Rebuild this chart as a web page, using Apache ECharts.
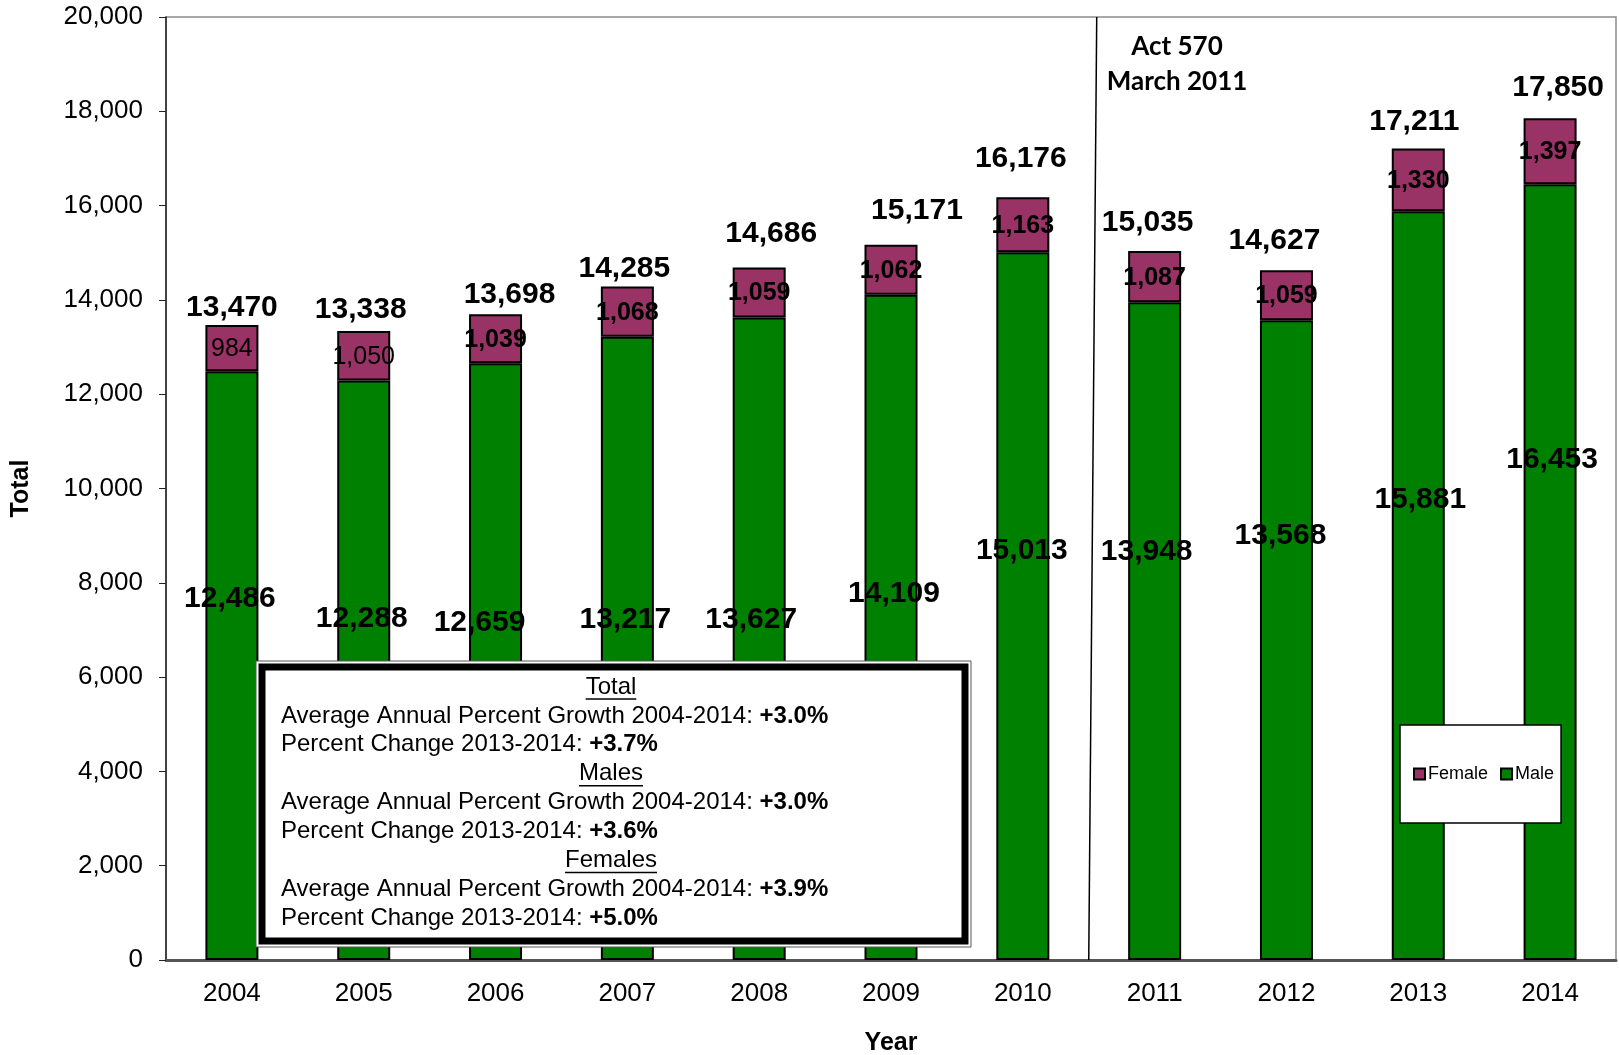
<!DOCTYPE html>
<html>
<head>
<meta charset="utf-8">
<script src="https://cdn.jsdelivr.net/npm/echarts@6.0.0/dist/echarts.min.js"></script>
<style>
html, body { margin: 0; padding: 0; background: #fff; }
#chart { width: 1619px; height: 1055px; }
</style>
</head>
<body>
<div id="chart"></div>
<script>
// data
const years = ['2004', '2005', '2006', '2007', '2008', '2009', '2010', '2011', '2012', '2013', '2014'];
const male = [12486, 12288, 12659, 13217, 13627, 14109, 15013, 13948, 13568, 15881, 16453];
const female = [984, 1050, 1039, 1068, 1059, 1062, 1163, 1087, 1059, 1330, 1397];
const totals = [13470, 13338, 13698, 14285, 14686, 15171, 16176, 15035, 14627, 17211, 17850];
const femaleBold = [false, false, true, true, true, true, true, true, true, true, true];

const noteLines = [
    { head: 'Total' },
    { text: 'Average Annual Percent Growth 2004-2014: ', bold: '+3.0%' },
    { text: 'Percent Change 2013-2014: ', bold: '+3.7%' },
    { head: 'Males' },
    { text: 'Average Annual Percent Growth 2004-2014: ', bold: '+3.0%' },
    { text: 'Percent Change 2013-2014: ', bold: '+3.6%' },
    { head: 'Females' },
    { text: 'Average Annual Percent Growth 2004-2014: ', bold: '+3.9%' },
    { text: 'Percent Change 2013-2014: ', bold: '+5.0%' }
];
const actNote = ['Act 570', 'March 2011'];

// label nudges (px), the original labels were dragged by hand
const maleLabelShift = [[-2, -67], [-2, -52], [-16, -39], [-2, -29], [-8, -19], [3, -34], [-1, -55], [-8, -79], [-6, -104], [2, -86], [2, -112]];
const totalLabelShift = [[0, 3], [-3, -1], [14, 1], [-3, 3], [12, -13], [26, -13], [-2, -18], [-7, -8], [-12, -9], [-4, -6], [8, -10]];

const FONT = '"Liberation Sans", Arial, sans-serif';
const fmt = v => Number(v).toLocaleString('en-US');

const chart = echarts.init(document.getElementById('chart'));

chart.setOption({
    animation: false,
    backgroundColor: '#fff',
    textStyle: { fontFamily: FONT, color: '#000' },
    grid: {
        left: 166,
        right: 3,
        top: 17,
        bottom: 95,
        outerBoundsMode: 'none',
        containLabel: false,
        show: true,
        borderColor: '#8c8c8c',
        borderWidth: 1.5
    },
    legend: {
        data: ['Female', 'Male'],
        left: 1400,
        top: 725,
        backgroundColor: '#fff',
        borderColor: '#000',
        borderWidth: 1.5,
        padding: [40, 7, 40, 13],
        itemWidth: 11,
        itemHeight: 11,
        itemGap: 12,
        icon: 'rect',
        itemStyle: { borderColor: '#000', borderWidth: 2 },
        textStyle: { fontSize: 18, fontFamily: FONT, color: '#000', padding: [0, 0, 0, -2] }
    },
    xAxis: {
        type: 'category',
        data: years,
        name: 'Year',
        nameLocation: 'middle',
        nameGap: 71,
        nameTextStyle: { fontSize: 25, fontWeight: 'bold', fontFamily: FONT, color: '#000' },
        axisLine: { lineStyle: { color: '#555', width: 3 } },
        axisTick: { length: 8, lineStyle: { color: '#333', width: 1 } },
        axisLabel: { fontSize: 26, margin: 21, color: '#000', fontFamily: FONT }
    },
    yAxis: {
        type: 'value',
        min: 0,
        max: 20000,
        interval: 2000,
        name: 'Total',
        nameLocation: 'middle',
        nameRotate: 90,
        nameGap: 132,
        nameTextStyle: { fontSize: 25, fontWeight: 'bold', fontFamily: FONT, color: '#000' },
        axisLine: { show: true, lineStyle: { color: '#222', width: 1.5 } },
        axisTick: { show: true, length: 7, lineStyle: { color: '#222' } },
        splitLine: { show: false },
        axisLabel: { fontSize: 26, margin: 23, color: '#000', fontFamily: FONT, formatter: fmt }
    },
    series: [
        {
            name: 'Male',
            type: 'bar',
            stack: 'pop',
            barWidth: 53,
            itemStyle: { color: '#008000', borderColor: '#000', borderWidth: 2 },
            label: {
                show: true,
                position: 'inside',
                fontSize: 30,
                fontWeight: 'bold',
                color: '#000',
                fontFamily: FONT,
                formatter: p => fmt(p.value)
            },
            data: male.map((v, i) => ({ value: v, label: { offset: maleLabelShift[i] } }))
        },
        {
            name: 'Female',
            type: 'bar',
            stack: 'pop',
            barWidth: 53,
            itemStyle: { color: '#993366', borderColor: '#000', borderWidth: 2 },
            label: {
                show: true,
                position: 'inside',
                fontSize: 25,
                color: '#000',
                fontFamily: FONT,
                formatter: p => fmt(p.value)
            },
            data: female.map((v, i) => ({
                value: v,
                label: { fontWeight: femaleBold[i] ? 'bold' : 'normal', offset: [0, 1] }
            }))
        },
        {
            name: 'Totals',
            type: 'line',
            silent: true,
            z: 10,
            symbol: 'circle',
            symbolSize: 1,
            itemStyle: { color: 'rgba(0,0,0,0)' },
            lineStyle: { width: 0, opacity: 0 },
            label: {
                show: true,
                position: 'top',
                distance: 5,
                fontSize: 30,
                fontWeight: 'bold',
                color: '#000',
                fontFamily: FONT,
                formatter: p => fmt(p.value)
            },
            data: totals.map((v, i) => ({ value: v, label: { offset: totalLabelShift[i] } }))
        }
    ]
});

// annotation: divider between 2010 and 2011, the note box
const xa = chart.convertToPixel({ xAxisIndex: 0 }, '2010');
const xb = chart.convertToPixel({ xAxisIndex: 0 }, '2011');
const xMid = (xa + xb) / 2;
const yTop = chart.convertToPixel({ yAxisIndex: 0 }, 20000);
const yBot = chart.convertToPixel({ yAxisIndex: 0 }, 0);

const ctx = document.createElement('canvas').getContext('2d');
ctx.font = '24px ' + FONT;

const box = { x: 256, y: 661, w: 715, h: 286 };
const lineTop = 687, lineStep = 28.9;
const graphics = [
    {
        type: 'line', z: 50,
        shape: { x1: xMid + 8, y1: yTop, x2: xMid, y2: yBot },
        style: { stroke: '#000', lineWidth: 1.5 }
    },
    {
        type: 'rect', z: 100,
        shape: { x: box.x, y: box.y, width: box.w, height: box.h },
        style: { fill: '#fff', stroke: '#555', lineWidth: 1 }
    },
    {
        type: 'rect', z: 101,
        shape: { x: box.x + 6, y: box.y + 6, width: box.w - 12, height: box.h - 12 },
        style: { fill: '#fff', stroke: '#000', lineWidth: 7 }
    }
];

actNote.forEach((t, i) => {
    graphics.push({
        type: 'text', z: 50,
        x: 1177, y: 47 + i * 35,
        style: {
            text: t, fill: '#000', font: 'bold 26px Lato, sans-serif',
            align: 'center', verticalAlign: 'middle'
        }
    });
});

noteLines.forEach((ln, i) => {
    const cy = lineTop + i * lineStep;
    if (ln.head) {
        const w = ctx.measureText(ln.head).width;
        graphics.push({
            type: 'text', z: 102,
            x: 611, y: cy,
            style: { text: ln.head, fill: '#000', font: '24px ' + FONT, align: 'center', verticalAlign: 'middle' }
        });
        graphics.push({
            type: 'line', z: 102,
            shape: { x1: 611 - w / 2, y1: cy + 12, x2: 611 + w / 2, y2: cy + 12 },
            style: { stroke: '#000', lineWidth: 1.5 }
        });
    } else {
        graphics.push({
            type: 'text', z: 102,
            x: 281, y: cy,
            style: {
                text: '{n|' + ln.text + '}{b|' + ln.bold + '}',
                verticalAlign: 'middle',
                rich: {
                    n: { font: '24px ' + FONT, fill: '#000' },
                    b: { font: 'bold 24px ' + FONT, fill: '#000' }
                }
            }
        });
    }
});

chart.setOption({ graphic: graphics });
</script>
</body>
</html>
